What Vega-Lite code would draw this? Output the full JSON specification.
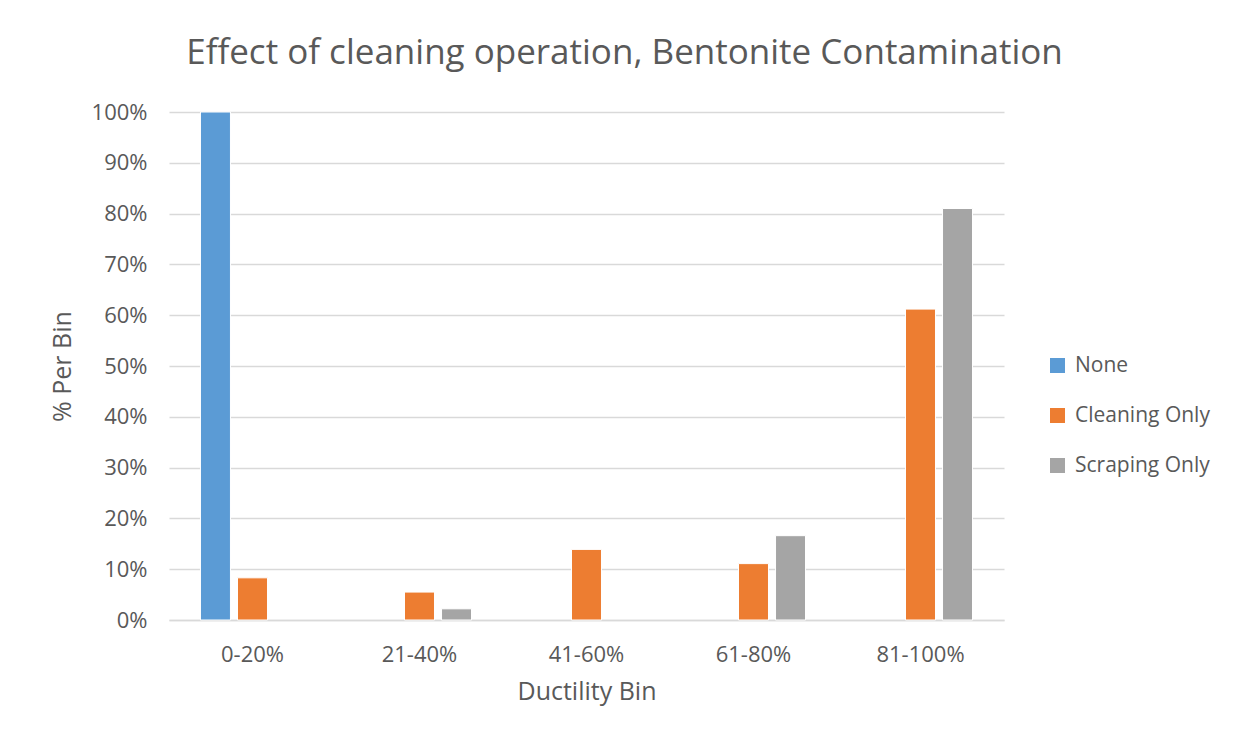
{
  "$schema": "https://vega.github.io/schema/vega-lite/v6.json",
  "autosize": {"type": "none"},
  "width": 835,
  "height": 508,
  "padding": {"left": 169, "top": 112, "right": 234, "bottom": 123},
  "background": "white",
  "title": {
    "text": "Effect of cleaning operation, Bentonite Contamination",
    "font": "Open Sans",
    "fontSize": 35,
    "fontWeight": "normal",
    "color": "#595959",
    "anchor": "middle",
    "frame": "group",
    "dx": 38,
    "offset": 30
  },
  "data": {
    "values": [
      {"bin": "0-20%", "op": "None", "pct": 1.0},
      {"bin": "0-20%", "op": "Cleaning Only", "pct": 0.083},
      {"bin": "21-40%", "op": "Cleaning Only", "pct": 0.055},
      {"bin": "21-40%", "op": "Scraping Only", "pct": 0.022},
      {"bin": "41-60%", "op": "Cleaning Only", "pct": 0.139},
      {"bin": "61-80%", "op": "Cleaning Only", "pct": 0.111},
      {"bin": "61-80%", "op": "Scraping Only", "pct": 0.166},
      {"bin": "81-100%", "op": "Cleaning Only", "pct": 0.612},
      {"bin": "81-100%", "op": "Scraping Only", "pct": 0.81}
    ]
  },
  "mark": {"type": "bar", "stroke": "white", "strokeWidth": 1},
  "encoding": {
    "x": {
      "field": "bin",
      "type": "nominal",
      "sort": ["0-20%", "21-40%", "41-60%", "61-80%", "81-100%"],
      "scale": {"paddingInner": 0, "paddingOuter": 0},
      "axis": {
        "title": "Ductility Bin",
        "labelAngle": 0,
        "labelFont": "Open Sans",
        "labelFontSize": 22,
        "labelColor": "#595959",
        "labelPadding": 24,
        "titleFont": "Open Sans",
        "titleFontSize": 25,
        "titleFontWeight": "normal",
        "titleColor": "#595959",
        "titlePadding": 14,
        "ticks": false,
        "domainColor": "#D9D9D9",
        "domainWidth": 1.5
      }
    },
    "xOffset": {
      "field": "op",
      "type": "nominal",
      "sort": ["None", "Cleaning Only", "Scraping Only"],
      "scale": {"domain": ["None", "Cleaning Only", "Scraping Only"], "paddingInner": 0.19, "paddingOuter": 0.85}
    },
    "y": {
      "field": "pct",
      "type": "quantitative",
      "scale": {"domain": [0, 1]},
      "axis": {
        "title": "% Per Bin",
        "format": ".0%",
        "values": [0, 0.1, 0.2, 0.3, 0.4, 0.5, 0.6, 0.7, 0.8, 0.9, 1.0],
        "labelFont": "Open Sans",
        "labelFontSize": 22,
        "labelColor": "#595959",
        "labelPadding": 22,
        "titleFont": "Open Sans",
        "titleFontSize": 25,
        "titleFontWeight": "normal",
        "titleColor": "#595959",
        "titlePadding": 16,
        "ticks": false,
        "domain": false,
        "gridColor": "#D9D9D9",
        "gridWidth": 1.5
      }
    },
    "color": {
      "field": "op",
      "type": "nominal",
      "scale": {"domain": ["None", "Cleaning Only", "Scraping Only"], "range": ["#5B9BD5", "#ED7D31", "#A5A5A5"]},
      "legend": {
        "title": null,
        "orient": "none",
        "legendX": 878,
        "legendY": 243,
        "padding": 0,
        "symbolType": "square",
        "symbolSize": 225,
        "symbolStrokeWidth": 0,
        "labelFont": "Open Sans",
        "labelFontSize": 21,
        "labelColor": "#595959",
        "labelOffset": 7,
        "rowPadding": 28
      }
    }
  },
  "config": {"view": {"stroke": null}}
}
